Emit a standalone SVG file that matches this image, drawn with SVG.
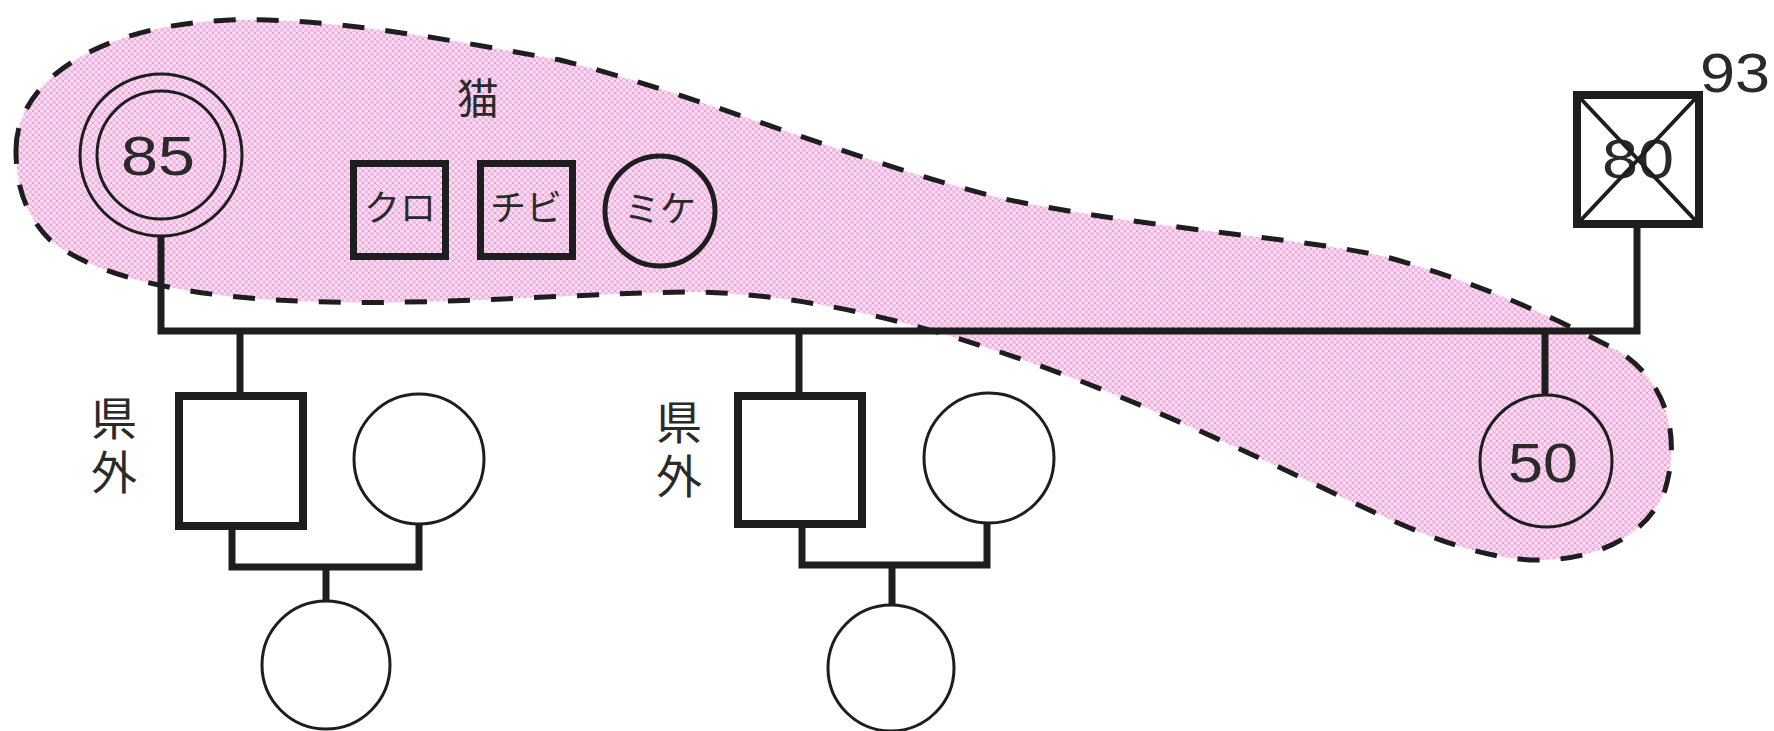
<svg xmlns="http://www.w3.org/2000/svg" width="1774" height="731" viewBox="0 0 1774 731">
<style>
.ln{fill:none;stroke:#1e1e1e;stroke-width:7;stroke-linejoin:miter;stroke-linecap:butt}
.box{fill:none;stroke:#1e1e1e;stroke-width:8}
.cbox{fill:none;stroke:#1e1e1e;stroke-width:7}
.cir{fill:none;stroke:#1e1e1e;stroke-width:3}
.cirw{fill:#fff;stroke:#1e1e1e;stroke-width:3}
.num{font-family:"Liberation Sans",Arial,sans-serif;font-size:56px;fill:#2a2a2a;text-anchor:middle}
.jp{font-family:"Noto Sans CJK JP","Noto Sans CJK SC",sans-serif;fill:#2a2a2a;text-anchor:middle}
.vt{font-family:"Noto Sans CJK JP","Noto Sans CJK SC",sans-serif;fill:#2a2a2a;font-size:46px;writing-mode:vertical-rl;text-anchor:start;letter-spacing:8px}
</style>
<defs>
<pattern id="pk" width="6" height="6" patternUnits="userSpaceOnUse">
<rect width="6" height="6" fill="#fbd9ee"/>
<path d="M0,0 L6,6 M6,0 L0,6" stroke="#f4a6e2" stroke-width="1"/>
<rect x="2.5" y="2.5" width="1" height="1" fill="#b0a0a8"/>
</pattern>
</defs>
<rect width="1774" height="731" fill="#fff"/>
<g id="cat-group">
<path d="M16,150 C16,80 100,25 230,20 C330,17 450,40 560,60 C700,95 850,160 1000,198 C1150,230 1310,238 1390,258 C1480,283 1560,320 1620,352 C1670,385 1680,440 1665,490 C1645,540 1590,562 1530,560 C1460,555 1400,525 1300,477 C1200,430 1100,385 1000,352 C900,318 800,295 700,292 C600,292 450,305 330,302 C200,300 100,280 50,240 C25,215 16,185 16,150 Z" fill="url(#pk)" stroke="#1e1e1e" stroke-width="5" stroke-dasharray="22 21"/>
</g>
<g id="connectors">
<path class="ln" d="M161,236 V331 H1637 V228"/>
<path class="ln" d="M1545,331 V395"/>
<path class="ln" d="M240,331 V392"/>
<path class="ln" d="M799,331 V392"/>
<path class="ln" d="M232,530 V567 H419 V524"/>
<path class="ln" d="M326,567 V601"/>
<path class="ln" d="M802,528 V565 H987 V523"/>
<path class="ln" d="M892,565 V605"/>
</g>
<g id="grandmother85">
<circle class="cir" cx="161" cy="155" r="81"/>
<circle class="cir" cx="161" cy="155" r="64"/>
<text class="num" x="158" y="175" textLength="74" lengthAdjust="spacingAndGlyphs">85</text>
</g>
<g id="grandfather80">
<rect class="box" x="1577" y="95" width="122" height="129" fill="#fff"/>
<text class="num" x="1638" y="178" textLength="72" lengthAdjust="spacingAndGlyphs">80</text>
<path d="M1581,99 L1695,220 M1695,99 L1581,220" stroke="#1e1e1e" stroke-width="4"/>
<text class="num" x="1735" y="92" textLength="70" lengthAdjust="spacingAndGlyphs">93</text>
</g>
<g id="cat-label"><text class="jp" x="478" y="114" font-size="42">猫</text></g>
<g id="cat-kuro">
<rect class="cbox" x="353.5" y="163.5" width="92" height="93"/>
<text class="jp" x="400" y="221" font-size="36">クロ</text>
</g>
<g id="cat-chibi">
<rect class="cbox" x="480.5" y="163.5" width="92" height="93"/>
<text class="jp" x="526" y="221" font-size="36">チビ</text>
</g>
<g id="cat-mike">
<circle cx="660" cy="211" r="55" fill="none" stroke="#1e1e1e" stroke-width="5"/>
<text class="jp" x="660" y="222" font-size="36">ミケ</text>
</g>
<g id="daughter50">
<circle class="cir" cx="1546" cy="461" r="66"/>
<text class="num" x="1543" y="482" textLength="70" lengthAdjust="spacingAndGlyphs">50</text>
</g>
<g id="son1">
<rect class="box" x="179" y="396" width="124" height="130" fill="#fff"/>
<text class="vt" x="114" y="395">県外</text>
</g>
<g id="son1-wife"><circle class="cirw" cx="419" cy="459" r="65"/></g>
<g id="son1-child"><circle class="cirw" cx="326" cy="665" r="64"/></g>
<g id="son2">
<rect class="box" x="738" y="396" width="124" height="128" fill="#fff"/>
<text class="vt" x="679" y="399">県外</text>
</g>
<g id="son2-wife"><circle class="cirw" cx="989" cy="458" r="65"/></g>
<g id="son2-child"><circle class="cirw" cx="891" cy="668" r="63"/></g>
</svg>
